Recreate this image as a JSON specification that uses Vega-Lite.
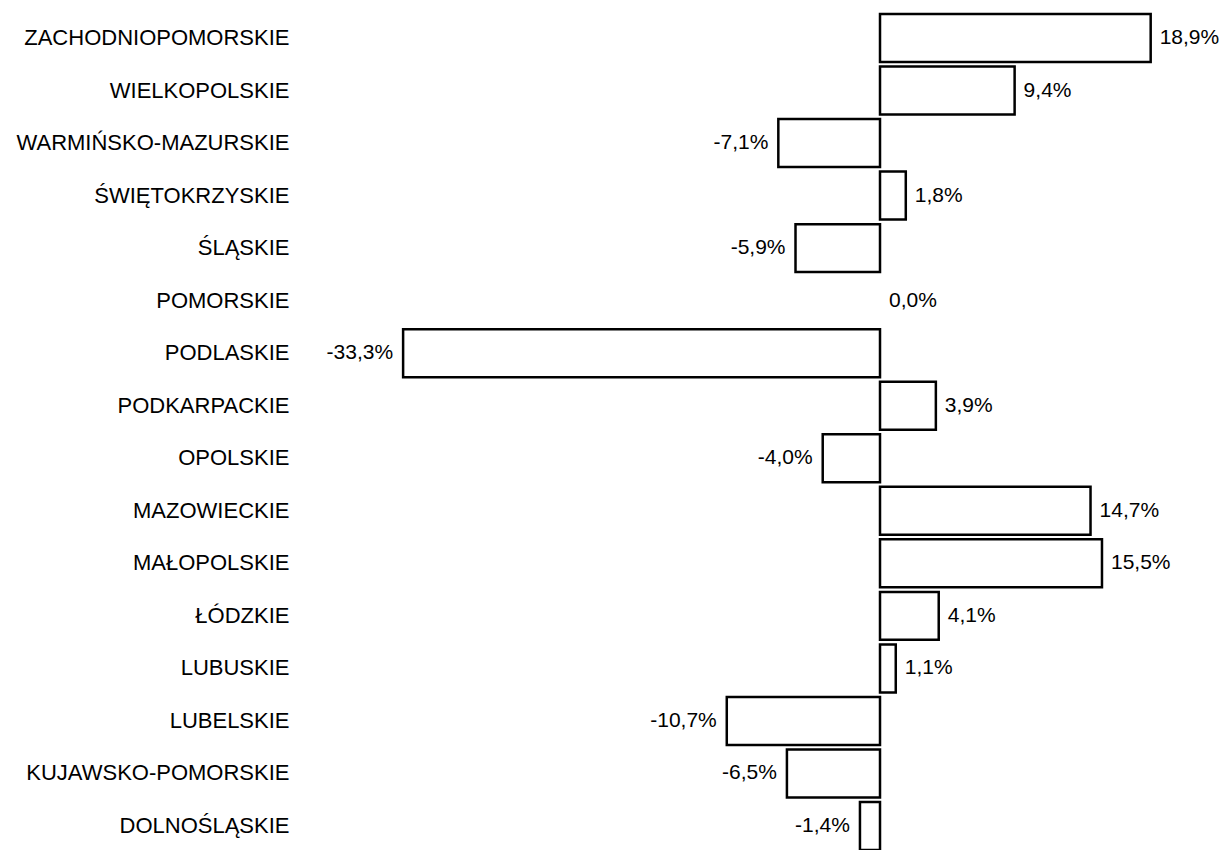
{
  "$schema": "https://vega.github.io/schema/vega-lite/v6.json",
  "autosize": {"type": "none"},
  "padding": {"left": 300, "top": 14, "right": 0, "bottom": 0},
  "width": 924,
  "height": 836,
  "background": "white",
  "config": {
    "view": {"stroke": null},
    "locale": {"number": {"decimal": ",", "thousands": " ", "grouping": [3], "currency": ["", " zł"], "minus": "-"}},
    "font": "Liberation Sans"
  },
  "data": {
    "values": [
      {"region": "ZACHODNIOPOMORSKIE", "v": 0.189},
      {"region": "WIELKOPOLSKIE", "v": 0.094},
      {"region": "WARMIŃSKO-MAZURSKIE", "v": -0.071},
      {"region": "ŚWIĘTOKRZYSKIE", "v": 0.018},
      {"region": "ŚLĄSKIE", "v": -0.059},
      {"region": "POMORSKIE", "v": 0.0},
      {"region": "PODLASKIE", "v": -0.333},
      {"region": "PODKARPACKIE", "v": 0.039},
      {"region": "OPOLSKIE", "v": -0.04},
      {"region": "MAZOWIECKIE", "v": 0.147},
      {"region": "MAŁOPOLSKIE", "v": 0.155},
      {"region": "ŁÓDZKIE", "v": 0.041},
      {"region": "LUBUSKIE", "v": 0.011},
      {"region": "LUBELSKIE", "v": -0.107},
      {"region": "KUJAWSKO-POMORSKIE", "v": -0.065},
      {"region": "DOLNOŚLĄSKIE", "v": -0.014}
    ]
  },
  "encoding": {
    "y": {
      "field": "region", "type": "nominal", "sort": null,
      "scale": {"paddingInner": 0.087, "paddingOuter": 0},
      "axis": {"title": null, "domain": false, "ticks": false, "labelPadding": 11, "labelLimit": 400,
               "labelFontSize": 22, "labelColor": "black", "labelFont": "Liberation Sans"}
    },
    "x": {
      "field": "v", "type": "quantitative",
      "scale": {"domain": [-0.405, 0.2402], "nice": false, "zero": false},
      "axis": null
    }
  },
  "layer": [
    {
      "mark": {"type": "bar", "fill": "white", "stroke": "black", "strokeWidth": 2.5},
      "encoding": {
        "x2": {"datum": 0},
        "strokeOpacity": {"condition": {"test": "datum.v === 0", "value": 0}, "value": 1}
      }
    },
    {
      "transform": [{"filter": "datum.v >= 0"}],
      "mark": {"type": "text", "align": "left", "baseline": "middle", "dx": 9, "fontSize": 21, "color": "black"},
      "encoding": {"text": {"field": "v", "type": "quantitative", "format": ".1%"}}
    },
    {
      "transform": [{"filter": "datum.v < 0"}],
      "mark": {"type": "text", "align": "right", "baseline": "middle", "dx": -10, "fontSize": 21, "color": "black"},
      "encoding": {"text": {"field": "v", "type": "quantitative", "format": ".1%"}}
    }
  ]
}
